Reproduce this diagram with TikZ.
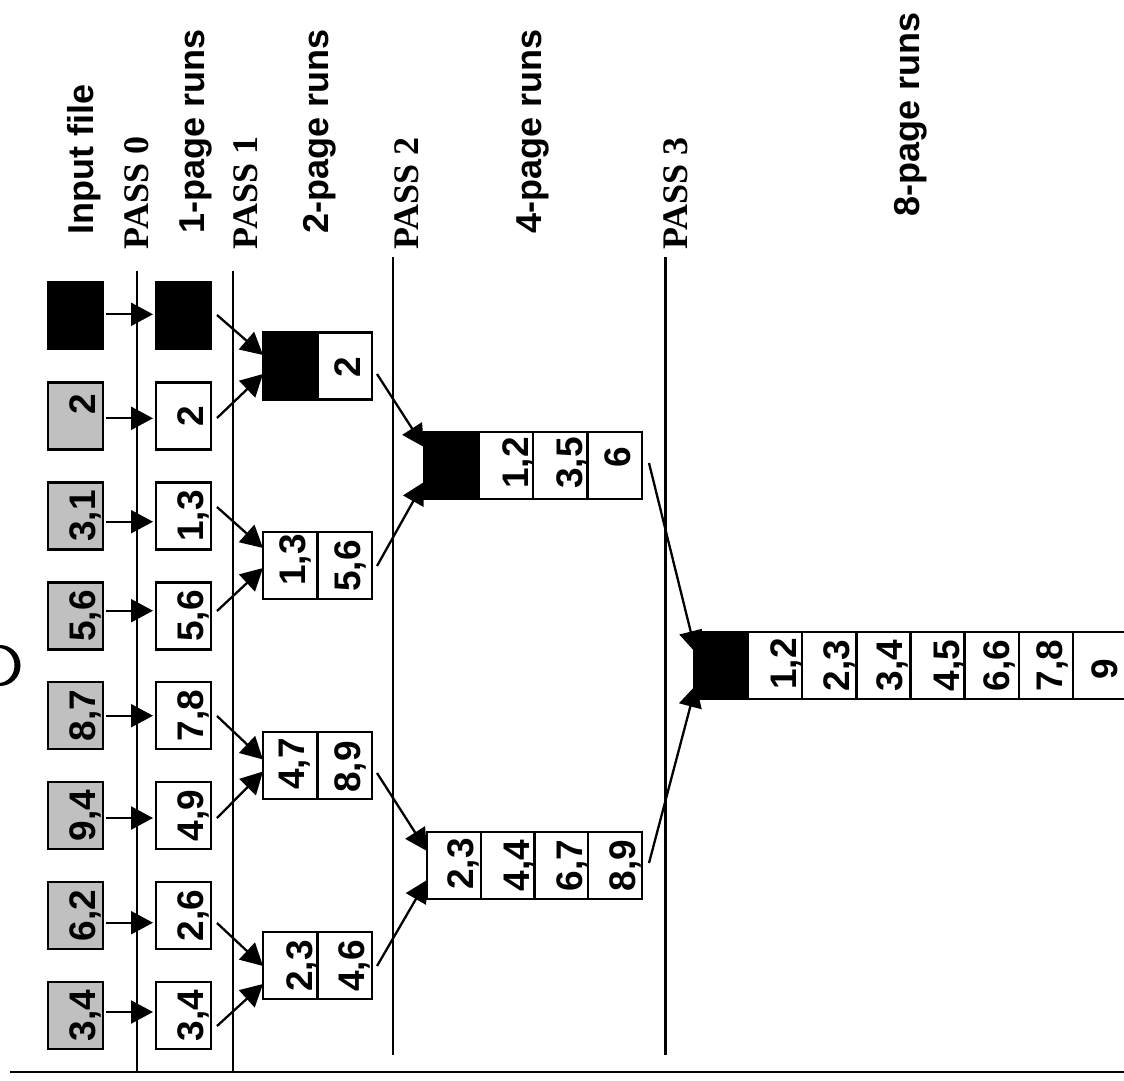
\documentclass[tikz,border=0pt]{standalone}
\usepackage{fontspec}
\setmainfont{Liberation Sans}
\newfontfamily\passfont{Liberation Serif}
\usetikzlibrary{arrows.meta}
\definecolor{inputgray}{RGB}{192,192,192}
\begin{document}
\begin{tikzpicture}[x=1pt,y=-1pt,
  cell/.style={draw, line width=2.3pt, minimum width=#1, minimum height=67pt, inner sep=0pt, outer sep=0pt},
  cell/.default=55pt,
  incell/.style={cell, fill=inputgray},
  blk/.style={fill=black},
  num/.style={rotate=90, anchor=base, inner sep=0pt, font=\fontsize{37pt}{40pt}\selectfont\bfseries},
  lab/.style={rotate=90, anchor=base west, inner sep=0pt, font=\fontsize{36pt}{40pt}\selectfont\bfseries},
  passlab/.style={rotate=90, anchor=base west, inner sep=0pt, font=\fontsize{36pt}{40pt}\selectfont\passfont\bfseries},
  sep/.style={line width=2.3pt},
  arr/.style={line width=2.3pt, -{Triangle[length=22pt,width=23pt]}}]
\useasboundingbox (0,0) rectangle (1124,1080);
\clip (0,0) rectangle (1124,1080);

% partial letter at the left edge
\fill[even odd rule] (0,665.5) ellipse [x radius=20.5pt, y radius=20.5pt]
                     (-1.5,665.5) ellipse [x radius=16pt, y radius=17.5pt];

% separator lines
\draw[sep] (10,1072) -- (1124,1072);
\draw[sep] (137.3,271) -- (137.3,1072);
\draw[sep] (232.7,271) -- (232.7,1072);
\draw[sep] (392.7,257) -- (392.7,1055);
\draw[sep] (665.5,257) -- (665.5,1055);

% labels
\node[lab] (linput) at (93,234.5) {Input file};
\node[passlab] (lpass0) at (148,249.5) {PASS 0};
\node[lab] (lrun1) at (204,234) {1-page runs};
\node[passlab] (lpass1) at (257,249.5) {PASS 1};
\node[lab] (lrun2) at (328,233.5) {2-page runs};
\node[passlab] (lpass2) at (418,250) {PASS 2};
\node[lab] (lrun4) at (541,234) {4-page runs};
\node[passlab] (lpass3) at (687,250) {PASS 3};
\node[lab] (lrun8) at (919,216.5) {8-page runs};

% input file
\node[cell, blk] (i1) at (75.5,315.5) {};
\node[incell] (i2) at (75.5,416) {};
\node[incell] (i3) at (75.5,516) {};
\node[incell] (i4) at (75.5,616) {};
\node[incell] (i5) at (75.5,715.5) {};
\node[incell] (i6) at (75.5,815.5) {};
\node[incell] (i7) at (75.5,915.5) {};
\node[incell] (i8) at (75.5,1015.5) {};
\node[num] (ti2) at (95.5,404.5) {2};
\node[num] (ti3) at (95.5,516) {3,1};
\node[num] (ti4) at (95.5,616) {5,6};
\node[num] (ti5) at (95.5,715.5) {8,7};
\node[num] (ti6) at (95.5,815.5) {9,4};
\node[num] (ti7) at (95.5,915.5) {6,2};
\node[num] (ti8) at (95.5,1015.5) {3,4};

% 1-page runs
\node[cell, blk] (p1) at (183.5,315.5) {};
\node[cell] (p2) at (183.5,416) {};
\node[cell] (p3) at (183.5,516) {};
\node[cell] (p4) at (183.5,616) {};
\node[cell] (p5) at (183.5,715.5) {};
\node[cell] (p6) at (183.5,815.5) {};
\node[cell] (p7) at (183.5,915.5) {};
\node[cell] (p8) at (183.5,1015.5) {};
\node[num] (tp2) at (203,416) {2};
\node[num] (tp3) at (203,516) {1,3};
\node[num] (tp4) at (203,616) {5,6};
\node[num] (tp5) at (203,715.5) {7,8};
\node[num] (tp6) at (203,815.5) {4,9};
\node[num] (tp7) at (203,915.5) {2,6};
\node[num] (tp8) at (203,1015.5) {3,4};

% 2-page runs
\node[cell=54.5pt, blk] (ra1) at (290.25,366) {};
\node[cell=54.5pt] (ra2) at (344.75,366) {};
\node[cell=54.5pt] (rb1) at (290.25,565.5) {};
\node[cell=54.5pt] (rb2) at (344.75,565.5) {};
\node[cell=54.5pt] (rc1) at (290.25,765.5) {};
\node[cell=54.5pt] (rc2) at (344.75,765.5) {};
\node[cell=54.5pt] (rd1) at (290.25,965.5) {};
\node[cell=54.5pt] (rd2) at (344.75,965.5) {};
\node[num] (tra2) at (360,367) {2};
\node[num] (trb1) at (305,560) {1,3};
\node[num] (trb2) at (360,566) {5,6};
\node[num] (trc1) at (304,764) {4,7};
\node[num] (trc2) at (360,767) {8,9};
\node[num] (trd1) at (312,966) {2,3};
\node[num] (trd2) at (364,966) {4,6};

% 4-page runs
\node[cell=54.5pt, blk] (qa1) at (451.25,465.5) {};
\node[cell=54.5pt] (qa2) at (505.75,465.5) {};
\node[cell=54.5pt] (qa3) at (560.25,465.5) {};
\node[cell=54.5pt] (qa4) at (614.75,465.5) {};
\node[num] (tqa2) at (528,463) {1,2};
\node[num] (tqa3) at (582,463) {3,5};
\node[num] (tqa4) at (630,457) {6};
\node[cell=53.75pt] (qb1) at (453.875,865.5) {};
\node[cell=53.75pt] (qb2) at (507.625,865.5) {};
\node[cell=53.75pt] (qb3) at (561.375,865.5) {};
\node[cell=53.75pt] (qb4) at (615.125,865.5) {};
\node[num] (tqb1) at (473,864) {2,3};
\node[num] (tqb2) at (529,865.5) {4,4};
\node[num] (tqb3) at (582,865.5) {6,7};
\node[num] (tqb4) at (635,865.5) {8,9};

% 8-page run
\node[cell=54.125pt, blk] (sa1) at (721.06,665.5) {};
\node[cell=54.125pt] (sa2) at (775.19,665.5) {};
\node[cell=54.125pt] (sa3) at (829.31,665.5) {};
\node[cell=54.125pt] (sa4) at (883.44,665.5) {};
\node[cell=54.125pt] (sa5) at (937.56,665.5) {};
\node[cell=54.125pt] (sa6) at (991.69,665.5) {};
\node[cell=54.125pt] (sa7) at (1045.81,665.5) {};
\node[cell=54.125pt] (sa8) at (1099.94,665.5) {};
\node[num] (tsa2) at (796,664) {1,2};
\node[num] (tsa3) at (849,665.5) {2,3};
\node[num] (tsa4) at (902,665.5) {3,4};
\node[num] (tsa5) at (959,665.5) {4,5};
\node[num] (tsa6) at (1009,665.5) {6,6};
\node[num] (tsa7) at (1062,665.5) {7,8};
\node[num] (tsa8) at (1117,669) {9};

% pass 0 arrows
\draw[arr] ([xshift=3pt,yshift=1.2pt]i1.east) -- ([xshift=-3pt,yshift=1.2pt]p1.west);
\draw[arr] ([xshift=3pt,yshift=-2.3pt]i2.east) -- ([xshift=-3pt,yshift=-2.3pt]p2.west);
\draw[arr] ([xshift=3pt,yshift=-5.7pt]i3.east) -- ([xshift=-3pt,yshift=-5.7pt]p3.west);
\draw[arr] ([xshift=3pt,yshift=5.3pt]i4.east) -- ([xshift=-3pt,yshift=5.3pt]p4.west);
\draw[arr] ([xshift=3pt,yshift=-0.2pt]i5.east) -- ([xshift=-3pt,yshift=-0.2pt]p5.west);
\draw[arr] ([xshift=3pt,yshift=-2.5pt]i6.east) -- ([xshift=-3pt,yshift=-2.5pt]p6.west);
\draw[arr] ([xshift=3pt,yshift=-7.2pt]i7.east) -- ([xshift=-3pt,yshift=-7.2pt]p7.west);
\draw[arr] ([xshift=3pt,yshift=3.5pt]i8.east) -- ([xshift=-3pt,yshift=3.5pt]p8.west);

% pass 1 arrows
\draw[arr] ([xshift=6pt,yshift=0.5pt]p1.east) -- ([yshift=11pt]ra1.west);
\draw[arr] ([xshift=6pt,yshift=-2pt]p2.east) -- ([yshift=-8pt]ra1.west);
\draw[arr] ([xshift=6pt,yshift=9pt]p3.east) -- ([yshift=17.5pt]rb1.west);
\draw[arr] ([xshift=6pt,yshift=5pt]p4.east) -- ([yshift=-2.5pt]rb1.west);
\draw[arr] ([xshift=6pt,yshift=-0.5pt]p5.east) -- ([yshift=6pt]rc1.west);
\draw[arr] ([xshift=6pt,yshift=-2.5pt]p6.east) -- ([yshift=-6pt]rc1.west);
\draw[arr] ([xshift=6pt,yshift=-7.5pt]p7.east) -- ([yshift=-0.5pt]rd1.west);
\draw[arr] ([xshift=6pt,yshift=-10.5pt]p8.east) -- ([yshift=-18.5pt]rd1.west);

% pass 2 arrows
\draw[arr] ([xshift=5pt,yshift=-8pt]ra2.east) -- ([yshift=18.5pt]qa1.west);
\draw[arr] ([xshift=5pt,yshift=-0.5pt]rb2.east) -- ([yshift=-16.5pt]qa1.west);
\draw[arr] ([xshift=5pt,yshift=-7.5pt]rc2.east) -- ([yshift=14.5pt]qb1.west);
\draw[arr] ([xshift=5pt,yshift=-0.5pt]rd2.east) -- ([yshift=-14.5pt]qb1.west);

% pass 3 arrows
\draw[arr] ([xshift=7pt,yshift=2.5pt]qa4.east) -- ([xshift=2pt,yshift=12.5pt]sa1.west);
\draw[arr] ([xshift=7pt,yshift=2.5pt]qb4.east) -- ([xshift=2pt,yshift=-19.5pt]sa1.west);
\end{tikzpicture}
\end{document}
